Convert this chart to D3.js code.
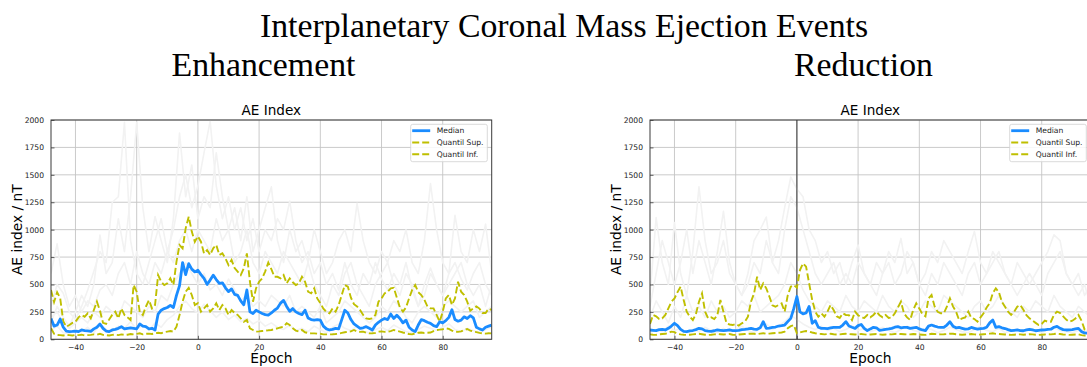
<!DOCTYPE html>
<html>
<head>
<meta charset="utf-8">
<script src="https://cdnjs.cloudflare.com/ajax/libs/d3/7.8.5/d3.min.js"></script>
<style>
  html, body { margin: 0; padding: 0; background: #fff; overflow: hidden; }
  svg { display: block; }
</style>
</head>
<body>
<svg id="fig" width="1087" height="367"></svg>
<script>
// ---------------------------------------------------------------
// AE index around ICME arrival (epoch in hours, values in nT)
// ---------------------------------------------------------------
const epochs = d3.range(-48, 97);          // hourly epochs, -48 .. 96
const eventEpochs = d3.range(-48, 97, 2);  // individual events, every 2 h

const xTicks = [-40, -20, 0, 20, 40, 60, 80];
const yTicks = [0, 250, 500, 750, 1000, 1250, 1500, 1750, 2000];

// ---- Enhancement ----
const enhMedian = [
  190,120,130,185,110,75,70,72,75,70,
  85,80,76,72,95,110,140,100,75,70,
  85,90,100,115,95,100,105,100,95,140,
  120,115,95,100,85,230,265,280,290,310,
  290,400,490,700,590,690,640,615,630,590,
  555,500,540,585,545,510,515,470,435,460,
  410,400,350,315,450,250,235,265,250,235,
  225,220,240,265,285,330,355,300,255,280,
  250,235,225,265,195,180,175,180,175,120,
  95,85,90,100,95,180,265,240,180,140,
  120,100,105,115,100,85,130,155,175,190,
  180,230,190,220,190,150,175,110,85,70,
  130,180,170,155,145,125,115,160,150,170,
  200,270,180,165,175,205,190,215,195,110,
  95,85,110,120,130
];
const enhUpper = [
  450,340,430,375,165,115,130,150,160,200,
  222,206,237,191,267,343,260,150,140,180,
  222,252,191,282,222,200,176,495,434,250,
  222,297,358,282,313,586,525,495,510,556,
  495,708,860,830,1012,1118,982,890,940,890,
  784,814,769,830,860,769,784,738,677,723,
  650,617,586,647,784,525,343,465,525,556,
  620,700,640,570,570,556,586,510,556,520,
  495,510,570,525,434,419,465,373,330,280,
  250,237,282,252,313,404,495,480,380,320,
  300,267,222,191,185,191,222,343,373,419,
  434,465,470,380,290,252,290,373,450,495,
  430,404,360,300,282,282,222,160,252,373,
  404,313,373,525,434,404,343,260,282,300,
  280,240,240,280,267
];
const enhLower = [
  100,50,40,38,35,40,38,35,40,38,
  42,35,38,40,45,42,50,40,38,35,
  40,42,38,45,40,42,48,45,50,55,
  45,50,52,48,55,60,55,65,70,75,
  70,115,222,343,434,470,404,313,330,252,
  282,313,252,282,328,267,313,282,222,267,
  240,222,191,160,176,100,85,70,72,76,
  80,82,85,92,100,108,115,146,130,100,
  80,70,85,64,58,54,54,52,50,45,
  45,45,46,48,52,58,64,70,72,85,
  72,68,70,60,54,55,58,70,72,68,
  70,75,85,78,70,62,55,48,45,55,
  60,62,58,60,62,75,85,88,92,100,
  95,80,70,68,72,85,94,80,70,65,
  58,54,52,55,54
];
// individual events (two-hourly samples)
const enhEvents = [
  [300,500,420,250,180,300,450,620,800,700,1250,1300,1980,900,600,500,700,900,1100,800,
   1000,1300,1500,1200,1400,1700,1990,1400,1100,1300,1000,1200,900,1100,800,1000,900,1100,1000,1260,
   900,700,800,600,700,500,600,450,700,500,400,600,500,700,550,450,600,500,700,450,
   300,500,650,500,400,600,700,550,450,600,700,500,400],
  [150,300,200,120,250,400,300,500,950,600,700,1100,800,1300,1980,1200,800,1120,900,700,
   1100,1880,1300,1590,1100,1300,1200,1700,1300,1000,1200,900,1300,800,1000,1200,1390,900,700,1000,
   800,900,700,1000,800,600,700,900,1000,800,1240,900,700,600,800,700,900,800,1000,700,
   600,900,1420,1000,700,600,1130,800,700,1000,800,1050,600],
  [600,870,500,300,400,250,350,300,450,500,400,600,700,500,800,600,500,700,600,800,
   700,900,1000,800,1000,900,800,1100,900,1000,700,800,1000,700,600,800,700,600,800,700,
   600,500,700,500,400,300,500,400,600,700,500,400,300,500,600,700,500,400,600,500,
   300,400,600,500,400,500,600,700,500,400,500,300,500],
  [200,250,150,100,150,200,150,250,200,300,250,200,350,300,250,200,300,250,400,350,
   500,600,700,600,500,600,450,500,400,550,450,350,400,300,350,300,400,350,300,400,
   250,300,250,200,300,150,200,250,350,300,250,200,150,200,300,250,350,300,200,150,
   250,300,250,200,300,350,300,250,300,350,200,250,300],
  [80,120,60,50,90,70,110,60,140,90,70,120,100,160,90,130,80,150,110,180,
   220,300,350,280,240,320,260,200,250,180,220,160,190,140,170,120,150,110,90,130,
   80,100,70,120,90,60,110,140,100,80,120,70,60,90,110,80,130,100,70,60,
   90,120,100,80,110,140,90,70,100,80,60,90,110]
];

// ---- Reduction ----
const redMedian = [
  85,82,79,88,91,85,100,121,146,125,
  90,72,70,76,80,88,100,95,79,75,
  73,78,85,82,79,82,85,80,79,82,
  88,91,95,100,92,91,105,161,100,102,
  109,112,121,125,130,161,191,282,390,250,
  232,240,300,146,170,110,100,100,98,104,
  109,108,109,130,161,121,110,100,125,135,
  100,80,95,109,105,82,85,91,95,100,
  110,115,105,108,109,100,105,109,95,85,
  79,120,130,120,112,109,109,130,160,120,
  105,108,100,92,95,108,100,92,98,100,
  110,150,176,109,115,105,98,88,79,82,
  85,80,78,85,91,85,78,82,85,86,
  90,92,110,118,100,88,85,86,88,95,
  100,70,58,55,60
];
const redUpper = [
  140,222,210,185,190,222,282,343,373,430,
  480,358,252,206,176,230,343,419,252,191,
  200,185,220,358,252,146,135,130,140,125,
  146,161,206,343,419,571,450,510,465,390,
  310,297,313,328,252,400,480,495,470,632,
  693,662,510,358,252,206,237,206,252,313,
  267,210,195,237,222,220,176,252,220,200,
  195,222,200,222,252,220,200,222,195,200,
  237,290,343,237,200,176,267,328,280,230,
  210,373,404,300,250,237,237,297,373,300,
  252,176,190,200,252,195,185,161,200,237,
  290,330,419,465,430,340,297,252,222,252,
  297,313,270,220,191,170,150,130,140,170,
  160,160,222,252,240,210,180,160,170,190,
  222,170,90,80,85
];
const redLower = [
  45,42,40,45,48,50,60,70,65,50,
  45,42,40,42,45,48,50,46,42,40,
  42,45,48,46,44,45,48,42,40,44,
  46,48,50,52,50,48,52,55,50,52,
  55,58,60,62,70,100,120,130,55,62,
  70,75,70,62,55,50,48,45,48,50,
  46,44,45,48,50,48,46,44,46,48,
  45,42,44,46,48,45,42,44,46,45,
  48,50,48,46,44,45,48,46,44,42,
  40,45,50,48,46,45,46,48,52,50,
  46,44,42,44,46,48,45,42,44,46,
  48,52,55,50,48,46,44,42,40,42,
  44,45,42,44,46,45,42,40,42,44,
  46,45,48,52,48,44,42,40,42,44,
  45,38,35,35,36
];
const redEvents = [
  [400,1110,700,500,1064,600,400,800,1390,900,600,700,900,600,500,400,600,900,1000,1115,
   700,900,1200,1480,1370,1300,1000,900,700,800,600,700,500,700,860,600,500,700,600,800,
   700,920,600,700,500,600,800,700,900,800,700,600,800,984,700,600,800,700,600,500,
   700,600,500,600,700,800,953,900,600,500,600,400,500],
  [300,600,900,700,500,700,1000,600,900,700,500,800,1167,700,500,400,500,700,600,900,
   700,600,1000,1300,1200,1000,800,600,500,600,700,500,600,500,700,600,500,400,600,700,
   500,600,800,700,500,400,600,500,700,600,500,400,600,700,500,600,700,800,600,500,
   400,500,600,500,400,600,700,800,600,500,400,500,300],
  [200,350,250,150,300,200,400,250,300,200,350,250,300,200,250,350,300,400,250,300,
   350,400,500,700,600,450,350,300,250,350,300,250,400,300,250,350,300,250,400,300,
   250,350,300,200,250,350,300,250,400,350,300,250,200,300,350,250,300,400,300,250,
   200,300,250,350,300,250,400,300,250,200,300,250,200],
  [60,90,70,120,80,100,60,90,70,110,80,60,100,70,90,120,80,60,100,140,
   90,120,160,220,180,140,110,90,120,80,100,70,90,120,80,100,70,90,110,80,
   60,90,120,80,70,100,90,60,80,110,90,70,60,90,120,80,70,100,60,80,
   90,70,100,80,60,90,110,80,70,60,80,90,60]
];

// ---------------------------------------------------------------
const W = 440.7, H = 219.3;
const svg = d3.select('#fig');
const C = {
  median: '#1a8cff',
  quant: '#bfbf00',
  event: '#f2f2f2',
  grid: '#c4c4c4',
  spine: '#3a3a3a',
  text: '#222'
};
const SANS = 'DejaVu Sans, sans-serif';
const SERIF = 'Liberation Serif, Times New Roman, serif';

svg.append('text').attr('x', 564).attr('y', 37)
  .attr('text-anchor', 'middle').attr('font-family', SERIF).attr('font-size', 33.8)
  .attr('fill', '#000').text('Interplanetary Coronal Mass Ejection Events');
svg.append('text').attr('x', 263.5).attr('y', 76)
  .attr('text-anchor', 'middle').attr('font-family', SERIF).attr('font-size', 33.8)
  .attr('fill', '#000').text('Enhancement');
svg.append('text').attr('x', 863.5).attr('y', 76)
  .attr('text-anchor', 'middle').attr('font-family', SERIF).attr('font-size', 33.8)
  .attr('fill', '#000').text('Reduction');

function panel(id, left, top, cfg) {
  const x = d3.scaleLinear().domain([-48, 96]).range([0, W]);
  const y = d3.scaleLinear().domain([0, 2000]).range([H, 0]);
  const g = svg.append('g').attr('transform', `translate(${left},${top})`);

  g.append('clipPath').attr('id', 'clip-' + id)
    .append('rect').attr('width', W).attr('height', H);

  // grid
  const grid = g.append('g');
  grid.selectAll('line.v').data(xTicks).join('line')
    .attr('x1', d => x(d)).attr('x2', d => x(d)).attr('y1', 0).attr('y2', H)
    .attr('stroke', C.grid).attr('stroke-width', 0.9);
  grid.selectAll('line.h').data(yTicks).join('line')
    .attr('x1', 0).attr('x2', W).attr('y1', d => y(d)).attr('y2', d => y(d))
    .attr('stroke', C.grid).attr('stroke-width', 0.9);

  const plot = g.append('g').attr('clip-path', `url(#clip-${id})`);

  // individual events
  const evLine = d3.line().x((d, i) => x(eventEpochs[i])).y(d => y(d));
  cfg.events.forEach(ev => {
    plot.append('path').attr('d', evLine(ev)).attr('fill', 'none')
      .attr('stroke', C.event).attr('stroke-width', 1.6).attr('stroke-linejoin', 'round');
  });

  if (cfg.zeroLine) {
    plot.append('line').attr('x1', x(0)).attr('x2', x(0)).attr('y1', 0).attr('y2', H)
      .attr('stroke', '#333').attr('stroke-width', 1);
  }

  const line = d3.line().x((d, i) => x(epochs[i])).y(d => y(d));
  plot.append('path').attr('d', line(cfg.upper)).attr('fill', 'none')
    .attr('stroke', C.quant).attr('stroke-width', 1.9).attr('stroke-dasharray', '7,3');
  plot.append('path').attr('d', line(cfg.lower)).attr('fill', 'none')
    .attr('stroke', C.quant).attr('stroke-width', 1.9).attr('stroke-dasharray', '7,3');
  plot.append('path').attr('d', line(cfg.median)).attr('fill', 'none')
    .attr('stroke', C.median).attr('stroke-width', 2.8).attr('stroke-linejoin', 'round');

  // axes (ticks pointing inward)
  const xAxis = d3.axisBottom(x).tickValues(xTicks).tickSize(-3.5).tickPadding(5)
    .tickFormat(d => d3.format('d')(d).replace('-', '\u2212'));
  const yAxis = d3.axisLeft(y).tickValues(yTicks).tickSize(-3.5).tickPadding(7)
    .tickFormat(d3.format('d'));
  const gx = g.append('g').attr('transform', `translate(0,${H})`).call(xAxis);
  const gy = g.append('g').call(yAxis);
  [gx, gy].forEach(a => {
    a.select('.domain').remove();
    a.selectAll('.tick line').attr('stroke', C.spine).attr('stroke-width', 0.8);
    a.selectAll('.tick text').attr('font-family', SANS).attr('font-size', 7.6).attr('fill', C.text);
  });

  // frame
  g.append('rect').attr('width', W).attr('height', H).attr('fill', 'none')
    .attr('stroke', C.spine).attr('stroke-width', 1);

  // titles and labels
  g.append('text').attr('x', W / 2).attr('y', -5).attr('text-anchor', 'middle')
    .attr('font-family', SANS).attr('font-size', 13.6).attr('fill', '#000').text('AE Index');
  g.append('text').attr('transform', `translate(${-29},${H / 2}) rotate(-90)`)
    .attr('text-anchor', 'middle').attr('font-family', SANS).attr('font-size', 13.8)
    .attr('fill', '#000').text('AE index / nT');
  g.append('text').attr('x', W / 2).attr('y', H + 24).attr('text-anchor', 'middle')
    .attr('font-family', SANS).attr('font-size', 13.8).attr('fill', '#000').text(cfg.xlabel);

  // legend
  const lg = g.append('g').attr('transform', `translate(${W - 81},${4.3})`);
  lg.append('rect').attr('width', 76.6).attr('height', 37.4).attr('rx', 2)
    .attr('fill', 'rgba(255,255,255,0.85)').attr('stroke', '#d0d0d0').attr('stroke-width', 0.8);
  const items = [
    { label: 'Median', color: C.median, w: 2.8, dash: null },
    { label: 'Quantil Sup.', color: C.quant, w: 1.9, dash: '7,3' },
    { label: 'Quantil Inf.', color: C.quant, w: 1.9, dash: '7,3' }
  ];
  items.forEach((it, i) => {
    const yy = 6.4 + i * 11.8;
    lg.append('line').attr('x1', 1.5).attr('x2', 19.5).attr('y1', yy).attr('y2', yy)
      .attr('stroke', it.color).attr('stroke-width', it.w)
      .attr('stroke-dasharray', it.dash);
    lg.append('text').attr('x', 26).attr('y', yy + 2.7)
      .attr('font-family', SANS).attr('font-size', 7.6).attr('fill', C.text).text(it.label);
  });
}

panel('enh', 51, 120, {
  median: enhMedian, upper: enhUpper, lower: enhLower, events: enhEvents,
  xlabel: 'Époch', zeroLine: false
});
panel('red', 650, 120, {
  median: redMedian, upper: redUpper, lower: redLower, events: redEvents,
  xlabel: 'Epoch', zeroLine: true
});
</script>
</body>
</html>
